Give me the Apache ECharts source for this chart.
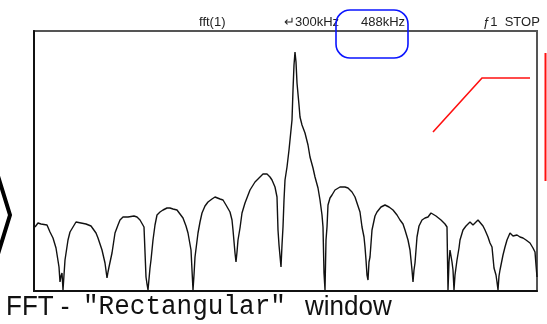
<!DOCTYPE html>
<html>
<head>
<meta charset="utf-8">
<script src="https://cdn.jsdelivr.net/npm/echarts@6/dist/echarts.min.js"></script>
<style>html,body{margin:0;padding:0;background:#fff;}#c{width:547px;height:324px;}</style>
</head>
<body>
<div id="c"></div>
<script>
// FFT spectrum trace (bin, level)
var bins = [1,4,7,9,13,16,19,22,24,25,26,27,28,29,30,31,34,36,39,42,44,47,49,52,54,57,59,62,64,68,71,73,74,75,78,81,84,86,89,91,94,96,100,103,106,108,110,112,113,114,116,117,119,121,123,126,129,133,136,139,143,146,149,152,154,157,158,159,160,161,164,166,168,171,174,178,181,183,186,189,192,196,198,199,201,202,203,204,206,208,211,216,221,226,229,233,236,238,241,243,244,245,247,248,249,250,251,253,255,256,258,259,260,261,262,263,265,266,268,271,274,276,279,281,284,286,288,289,290,291,292,293,294,296,298,301,306,311,314,318,321,323,326,328,330,331,332,333,334,335,336,338,341,343,347,351,355,359,363,366,369,371,374,376,378,379,380,381,382,383,385,388,391,394,397,399,402,404,407,409,411,413,414,415,416,418,419,420,421,423,425,426,429,432,436,439,441,444,446,449,451,454,456,458,460,462,463,464,465,466,469,471,473,476,479,483,486,489,492,496,499,501,502,503];
var levels = [64,68,67,69,66,59,53,43,41,24,9,15,18,1,16,31,51,59,64,69,70,68,69,67,68,65,63,58,53,41,28,13,19,24,38,58,66,71,74,76,74,74,75,74,71,69,64,14,7,1,23,31,51,66,76,79,81,83,83,82,81,77,73,65,58,41,21,1,16,34,58,69,78,85,89,92,94,94,92,91,86,79,71,61,38,29,39,51,63,78,88,101,109,114,117,117,114,111,104,94,61,46,24,46,64,91,111,124,141,151,171,201,226,239,229,208,186,174,166,158,146,134,123,114,103,91,76,64,18,1,51,64,86,93,96,101,104,104,103,99,94,88,79,64,54,44,31,16,11,29,34,61,75,79,84,86,84,81,76,71,67,61,51,41,21,9,21,28,41,54,65,71,73,74,78,78,75,74,71,69,67,64,1,29,41,29,21,1,16,31,43,51,61,65,69,66,67,71,69,65,61,54,48,44,23,16,9,1,15,21,36,44,51,58,55,56,54,53,51,48,43,39,26,14];
var headerTexts = ['fft(1)', '\u21B5300kHz', '488kHz', '\u0192' + '1  STOP'];
var captionParts = ['FFT - ', '"Rectangular"', 'window'];

var data = bins.map(function (b, i) { return [b, levels[i]]; });
var chart = echarts.init(document.getElementById('c'), null, {renderer: 'canvas'});
var hdr = {fontFamily: 'Liberation Sans, Arial, sans-serif', fontSize: 13, fill: '#222', verticalAlign: 'middle'};
function t(x, y, s, extra) {
  var st = Object.assign({}, hdr, {text: s, x: 0, y: 0}, extra || {});
  return {type: 'text', x: x, y: y, style: st, z: 10};
}
function cap(x, s, fam) {
  return {type: 'text', x: x, y: 307, scaleY: 1.06,
    style: {text: s, x: 0, y: 0, fontFamily: fam, fontSize: 26, fill: '#111', verticalAlign: 'middle'}, z: 10};
}
chart.setOption({
  animation: false,
  backgroundColor: '#fff',
  grid: {left: 34, top: 31, width: 503, height: 260, show: true, borderColor: '#555', borderWidth: 2, backgroundColor: 'transparent'},
  xAxis: {type: 'value', min: 0, max: 503, show: true,
    axisLine: {show: true, onZero: false, lineStyle: {color: '#111', width: 2}},
    axisTick: {show: false}, axisLabel: {show: false}, splitLine: {show: false}},
  yAxis: {type: 'value', min: 0, max: 260, show: true,
    axisLine: {show: true, onZero: false, lineStyle: {color: '#111', width: 2}},
    axisTick: {show: false}, axisLabel: {show: false}, splitLine: {show: false}},
  series: [{type: 'line', data: data, showSymbol: false, symbol: 'none',
    lineStyle: {color: '#111', width: 1.4}, clip: true}],
  graphic: [
    t(199, 22.5, headerTexts[0]),
    t(284, 22.5, headerTexts[1]),
    t(361, 22.5, headerTexts[2]),
    t(483, 22.5, headerTexts[3]),
    {type: 'rect', shape: {x: 336, y: 10, width: 72, height: 48, r: 14},
      style: {fill: 'none', stroke: '#0a14ff', lineWidth: 1.6}, z: 11},
    {type: 'polyline', shape: {points: [[433, 132], [482, 78], [530, 78]]},
      style: {fill: 'none', stroke: '#ff1010', lineWidth: 1.6}, z: 11},
    {type: 'line', shape: {x1: 545.5, y1: 53, x2: 545.5, y2: 181},
      style: {stroke: '#ff1010', lineWidth: 2}, z: 11},
    {type: 'polyline', shape: {points: [[-2, 176], [10, 215], [-2, 254]]},
      style: {fill: 'none', stroke: '#000', lineWidth: 4}, z: 11},
    cap(6, captionParts[0], 'Liberation Sans, Arial, sans-serif'),
    cap(83, captionParts[1], 'Liberation Mono, Courier New, monospace'),
    cap(305, captionParts[2], 'Liberation Sans, Arial, sans-serif')
  ]
});
</script>
</body>
</html>
